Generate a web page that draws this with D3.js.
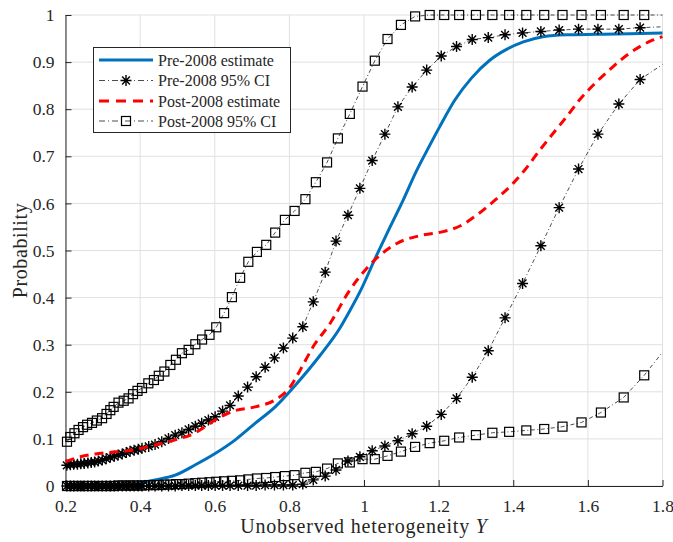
<!DOCTYPE html>
<html>
<head>
<meta charset="utf-8">
<script src="https://cdn.jsdelivr.net/npm/d3@7"></script>
<style>
  html, body { margin: 0; padding: 0; background: #fff; }
  svg { display: block; }
  text { font-family: "Liberation Serif", "Times New Roman", serif; fill: #262626; }
</style>
</head>
<body>
<svg id="chart" width="673" height="542"></svg>
<script>
// Tick values
const xTicks = [0.2, 0.4, 0.6, 0.8, 1, 1.2, 1.4, 1.6, 1.8];
const yTicks = [0, 0.1, 0.2, 0.3, 0.4, 0.5, 0.6, 0.7, 0.8, 0.9, 1];

// Pre-2008 point estimate
const preEstX = [0.2, 0.293, 0.347, 0.387, 0.440, 0.494, 0.548, 0.601, 0.655, 0.708, 0.762, 0.816, 0.882, 0.936, 0.962, 0.989, 1.034, 1.070, 1.105, 1.140, 1.174, 1.203, 1.244, 1.288, 1.337, 1.382, 1.427, 1.480, 1.543, 1.623, 1.712, 1.8];
const preEstY = [0, 0, 0.002, 0.004, 0.013, 0.023, 0.045, 0.069, 0.098, 0.133, 0.168, 0.214, 0.277, 0.336, 0.372, 0.412, 0.490, 0.550, 0.607, 0.668, 0.720, 0.763, 0.820, 0.866, 0.904, 0.927, 0.943, 0.954, 0.958, 0.959, 0.960, 0.962];

// Pre-2008 95% confidence band (shared grid)
const preCIX = [0.2035, 0.213, 0.222, 0.232, 0.241, 0.250, 0.260, 0.269, 0.278, 0.288,
  0.2985, 0.309, 0.320, 0.331, 0.341, 0.352, 0.363, 0.373, 0.384, 0.395,
  0.405, 0.423, 0.440, 0.458, 0.476, 0.494, 0.512, 0.530, 0.548, 0.565,
  0.583, 0.601, 0.621, 0.641, 0.663, 0.688, 0.711, 0.735, 0.760, 0.784,
  0.809, 0.836, 0.864, 0.896, 0.925, 0.957, 0.989, 1.022, 1.056, 1.091,
  1.129, 1.168, 1.207, 1.248, 1.290, 1.333, 1.378, 1.425, 1.474, 1.523,
  1.575, 1.627, 1.683, 1.740, 1.800];
const preCIUpper = [0.044, 0.045, 0.046, 0.046, 0.047, 0.048, 0.049, 0.050, 0.051, 0.053,
  0.055, 0.058, 0.061, 0.063, 0.066, 0.068, 0.071, 0.074, 0.076, 0.078,
  0.080, 0.084, 0.088, 0.094, 0.101, 0.108, 0.113, 0.120, 0.127, 0.133,
  0.140, 0.147, 0.159, 0.171, 0.191, 0.210, 0.232, 0.252, 0.272, 0.293,
  0.314, 0.338, 0.391, 0.454, 0.520, 0.575, 0.632, 0.691, 0.747, 0.805,
  0.847, 0.883, 0.913, 0.933, 0.948, 0.952, 0.958, 0.962, 0.965, 0.968,
  0.970, 0.970, 0.970, 0.973, 0.975];
const preCILower = [0, 0, 0, 0, 0, 0, 0, 0, 0, 0,
  0, 0, 0, 0, 0, 0, 0, 0, 0, 0,
  0, 0, 0, 0, 0, 0, 0.001, 0.001, 0.001, 0.001,
  0.001, 0.001, 0.001, 0.001, 0.001, 0.001, 0.001, 0.002, 0.002, 0.002,
  0.002, 0.004, 0.013, 0.021, 0.034, 0.053, 0.062, 0.075, 0.085, 0.096,
  0.111, 0.127, 0.152, 0.186, 0.231, 0.287, 0.357, 0.430, 0.510, 0.591,
  0.673, 0.747, 0.811, 0.863, 0.895];

// Post-2008 point estimate
const postEstX = [0.2, 0.240, 0.280, 0.315, 0.378, 0.440, 0.494, 0.548, 0.574, 0.601, 0.646, 0.708, 0.762, 0.802, 0.829, 0.864, 0.909, 0.962, 1.007, 1.043, 1.088, 1.159, 1.212, 1.257, 1.302, 1.351, 1.400, 1.431, 1.471, 1.507, 1.543, 1.579, 1.623, 1.667, 1.712, 1.775, 1.8];
const postEstY = [0.052, 0.062, 0.068, 0.071, 0.076, 0.087, 0.098, 0.113, 0.126, 0.140, 0.158, 0.168, 0.183, 0.210, 0.246, 0.296, 0.345, 0.416, 0.462, 0.490, 0.515, 0.533, 0.540, 0.552, 0.575, 0.607, 0.643, 0.671, 0.713, 0.749, 0.784, 0.821, 0.858, 0.890, 0.919, 0.947, 0.954];

// Post-2008 95% confidence band (shared grid)
const postCIX = [0.204, 0.213, 0.224, 0.235, 0.247, 0.258, 0.271, 0.284, 0.298, 0.310,
  0.320, 0.329, 0.342, 0.356, 0.369, 0.381, 0.393, 0.405, 0.422, 0.437,
  0.450, 0.465, 0.481, 0.496, 0.512, 0.530, 0.548, 0.566, 0.586, 0.604,
  0.625, 0.646, 0.668, 0.690, 0.713, 0.738, 0.762, 0.788, 0.814, 0.843,
  0.871, 0.901, 0.930, 0.962, 0.996, 1.029, 1.063, 1.099, 1.137, 1.176,
  1.215, 1.255, 1.300, 1.344, 1.389, 1.435, 1.483, 1.532, 1.583, 1.635,
  1.696, 1.751, 1.800];
const postCIUpper = [0.094, 0.104, 0.112, 0.119, 0.125, 0.130, 0.134, 0.139, 0.144, 0.153,
  0.161, 0.168, 0.177, 0.181, 0.186, 0.195, 0.202, 0.208, 0.218, 0.225,
  0.234, 0.243, 0.257, 0.268, 0.282, 0.289, 0.301, 0.311, 0.321, 0.337,
  0.367, 0.401, 0.442, 0.476, 0.497, 0.512, 0.538, 0.565, 0.584, 0.609,
  0.645, 0.687, 0.738, 0.790, 0.848, 0.903, 0.949, 0.979, 0.997, 1.000,
  1.000, 1.000, 1.000, 1.000, 1.000, 1.000, 1.000, 1.000, 1.000, 1.000,
  1.000, 1.000, 1.000];
const postCILower = [0, 0, 0, 0, 0, 0, 0, 0, 0, 0,
  0, 0, 0.001, 0.001, 0.001, 0.001, 0.001, 0.001, 0.002, 0.002,
  0.002, 0.003, 0.003, 0.004, 0.004, 0.005, 0.006, 0.007, 0.008, 0.009,
  0.010, 0.011, 0.012, 0.014, 0.016, 0.017, 0.019, 0.021, 0.023, 0.028,
  0.030, 0.037, 0.048, 0.050, 0.057, 0.057, 0.064, 0.073, 0.083, 0.091,
  0.096, 0.103, 0.108, 0.113, 0.115, 0.118, 0.121, 0.126, 0.135, 0.156,
  0.188, 0.235, 0.284];

const legendLabels = ["Pre-2008 estimate", "Pre-2008 95% CI", "Post-2008 estimate", "Post-2008 95% CI"];

const BLUE = "#0072BD", RED = "#FF0000", INK = "#262626", GRID = "#e0e0e0";

const svg = d3.select("#chart");
const plotL = 65.5, plotR = 662.5, plotT = 15, plotB = 486;

const x = d3.scaleLinear().domain([0.2, 1.8]).range([plotL, plotR]);
const y = d3.scaleLinear().domain([0, 1]).range([plotB, plotT]);

// grid
const grid = svg.append("g");
grid.selectAll(".gx").data(xTicks).join("line")
  .attr("x1", d => x(d)).attr("x2", d => x(d))
  .attr("y1", plotT).attr("y2", plotB)
  .attr("stroke", GRID).attr("stroke-width", 1);
grid.selectAll(".gy").data(yTicks).join("line")
  .attr("x1", plotL).attr("x2", plotR)
  .attr("y1", d => y(d)).attr("y2", d => y(d))
  .attr("stroke", GRID).attr("stroke-width", 1);

// axes (ticks pointing inward)
const fmt = d => String(+d.toFixed(1));
const xAxis = d3.axisBottom(x).tickValues(xTicks).tickSizeInner(-6).tickSizeOuter(0)
  .tickPadding(14).tickFormat(fmt);
const yAxis = d3.axisLeft(y).tickValues(yTicks).tickSizeInner(-6).tickSizeOuter(0)
  .tickPadding(11).tickFormat(fmt);

const gx = svg.append("g").attr("transform", `translate(0,${plotB})`).call(xAxis);
const gy = svg.append("g").attr("transform", `translate(${plotL},0)`).call(yAxis);
[gx, gy].forEach(g => {
  g.select(".domain").attr("stroke", INK).attr("stroke-width", 1);
  g.selectAll(".tick line").attr("stroke", INK).attr("stroke-width", 1);
  g.selectAll(".tick text").attr("fill", INK)
    .style("font-family", '"Liberation Serif", "Times New Roman", serif')
    .style("font-size", "17.5px");
});

// plotting area
const plot = svg.append("g");
const lineGen = d3.line().x(d => x(d[0])).y(d => y(d[1]));
const smoothGen = d3.line().x(d => x(d[0])).y(d => y(d[1])).curve(d3.curveMonotoneX);

function starPath(cx, cy, r) {
  const k = r * 0.7071;
  return `M${cx - r},${cy}L${cx + r},${cy}M${cx},${cy - r}L${cx},${cy + r}` +
         `M${cx - k},${cy - k}L${cx + k},${cy + k}M${cx - k},${cy + k}L${cx + k},${cy - k}`;
}

function ciSeries(xs, ys, marker) {
  const pts = xs.map((v, i) => [v, ys[i]]);
  plot.append("path").datum(pts)
    .attr("d", lineGen).attr("fill", "none")
    .attr("stroke", "#000").attr("stroke-width", 0.7)
    .attr("stroke-dasharray", "4,2.5,1,2.5");
  // markers on all points except the closing end point
  const mk = pts.slice(0, -1);
  if (marker === "star") {
    plot.append("g").selectAll("path").data(mk).join("path")
      .attr("d", d => starPath(x(d[0]), y(d[1]), 5.5))
      .attr("stroke", "#000").attr("stroke-width", 1.4).attr("fill", "none");
  } else {
    plot.append("g").selectAll("rect").data(mk).join("rect")
      .attr("x", d => x(d[0]) - 4.5).attr("y", d => y(d[1]) - 4.5)
      .attr("width", 9).attr("height", 9)
      .attr("stroke", "#000").attr("stroke-width", 1.2).attr("fill", "none");
  }
}

// Pre-2008 estimate
plot.append("path").datum(preEstX.map((v, i) => [v, preEstY[i]]))
  .attr("d", smoothGen).attr("fill", "none")
  .attr("stroke", BLUE).attr("stroke-width", 3);
// Pre-2008 CI
ciSeries(preCIX, preCIUpper, "star");
ciSeries(preCIX, preCILower, "star");
// Post-2008 estimate
plot.append("path").datum(postEstX.map((v, i) => [v, postEstY[i]]))
  .attr("d", smoothGen).attr("fill", "none")
  .attr("stroke", RED).attr("stroke-width", 3)
  .attr("stroke-dasharray", "9,6");
// Post-2008 CI
ciSeries(postCIX, postCIUpper, "square");
ciSeries(postCIX, postCILower, "square");

// axis titles
svg.append("text")
  .attr("x", (plotL + plotR) / 2).attr("y", 533)
  .attr("text-anchor", "middle").style("font-size", "20px")
  .style("letter-spacing", "0.8px")
  .call(t => {
    t.append("tspan").text("Unobserved heterogeneity ");
    t.append("tspan").attr("font-style", "italic").text("Y");
  });
svg.append("text")
  .attr("transform", `translate(27,${(plotT + plotB) / 2}) rotate(-90)`)
  .attr("text-anchor", "middle").style("font-size", "20px")
  .style("letter-spacing", "0.6px")
  .text("Probability");

// legend
const lg = svg.append("g");
lg.append("rect").attr("x", 93.5).attr("y", 47.5).attr("width", 197).attr("height", 85)
  .attr("fill", "#fff").attr("stroke", INK).attr("stroke-width", 1);
const rowsY = [60, 80.5, 101, 121];
const sx0 = 99, sx1 = 153, sxm = 126;
lg.append("line").attr("x1", sx0).attr("x2", sx1).attr("y1", rowsY[0]).attr("y2", rowsY[0])
  .attr("stroke", BLUE).attr("stroke-width", 3);
lg.append("line").attr("x1", sx0).attr("x2", sx1).attr("y1", rowsY[1]).attr("y2", rowsY[1])
  .attr("stroke", "#000").attr("stroke-width", 0.7).attr("stroke-dasharray", "6,3,1,3");
lg.append("path").attr("d", starPath(sxm, rowsY[1], 5.5)).attr("stroke", "#000").attr("stroke-width", 1.4);
lg.append("line").attr("x1", sx0).attr("x2", sx1).attr("y1", rowsY[2]).attr("y2", rowsY[2])
  .attr("stroke", RED).attr("stroke-width", 3).attr("stroke-dasharray", "10,7");
lg.append("line").attr("x1", sx0).attr("x2", sx1).attr("y1", rowsY[3]).attr("y2", rowsY[3])
  .attr("stroke", "#000").attr("stroke-width", 0.7).attr("stroke-dasharray", "6,3,1,3");
lg.append("rect").attr("x", sxm - 4.5).attr("y", rowsY[3] - 4.5).attr("width", 9).attr("height", 9)
  .attr("stroke", "#000").attr("stroke-width", 1.2).attr("fill", "none");
lg.selectAll("text.lab").data(legendLabels).join("text")
  .attr("class", "lab")
  .attr("x", 158).attr("y", (d, i) => rowsY[i]).attr("dy", "0.35em")
  .style("font-size", "16px").text(d => d);
</script>
</body>
</html>
